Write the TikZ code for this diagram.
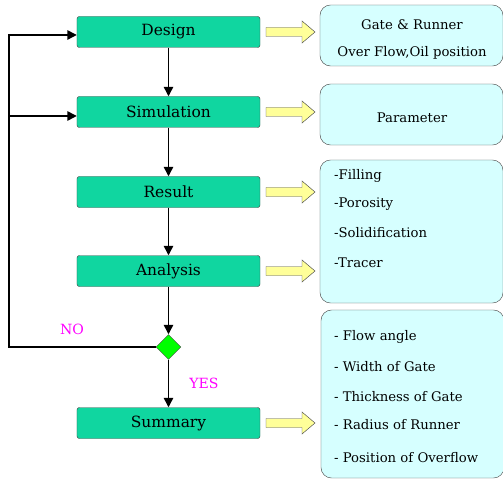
\documentclass[tikz,border=0pt]{standalone}
\usepackage{fontspec}
\setmainfont{DejaVu Serif}
\usetikzlibrary{arrows.meta,shapes.geometric}
\definecolor{stepgreen}{RGB}{16,214,160}
\definecolor{notecyan}{RGB}{214,255,255}
\definecolor{hintyellow}{RGB}{255,255,153}
\definecolor{answerpink}{RGB}{255,0,255}
\tikzset{
  stepbox/.style={draw=black!70,fill=stepgreen,rounded corners=2pt,minimum width=5.49cm,minimum height=0.93cm,font=\fontsize{13.2}{15}\selectfont},
  notebox/.style={draw=black!70,fill=notecyan,rounded corners=9pt,minimum width=5.49cm},
  notetext/.style={anchor=west,font=\fontsize{11.3}{13}\selectfont},
  flow/.style={line width=1.2pt,-{Triangle[length=8pt,width=8pt]}},
  answer/.style={text=answerpink,font=\fontsize{12}{14}\selectfont}
}
\begin{document}
\begin{tikzpicture}[x=0.03cm,y=-0.03cm]
\useasboundingbox (0,0) rectangle (503,480);
% steps
\node[stepbox] (design) at (168.5,32) {Design};
\node[stepbox] (sim) at (168.5,112) {Simulation};
\node[stepbox] (result) at (168.5,192) {Result};
\node[stepbox] (analysis) at (168.5,271) {Analysis};
\node[draw=black!70,fill=green,diamond,minimum size=0.75cm,inner sep=0pt] (check) at (168.5,347) {};
\node[stepbox] (summary) at (168.5,423) {Summary};
\draw[flow] (design) -- (sim);
\draw[flow] (sim) -- (result);
\draw[flow] (result) -- (analysis);
\draw[flow] (analysis) -- (check);
\draw[flow] (check) -- (summary);
\coordinate (loop) at (9,347);
\draw[flow] (check.west) -- (loop) |- ([yshift=-0.09cm]design.west);
\draw[flow] (loop |- 0,116) -- (sim.west |- 0,116);
\node[answer] (no) at (72,329) {NO};
\node[answer] (yes) at (204,383) {YES};
% notes
\node[notebox,minimum height=1.83cm] (n1) at (411.5,35.5) {};
\node[notebox,minimum height=1.83cm] (n2) at (411.5,114.5) {};
\node[notebox,minimum height=4.29cm] (n3) at (411.5,231.5) {};
\node[notebox,minimum height=5.04cm] (n4) at (412.5,394) {};
\node[font=\fontsize{11.3}{13}\selectfont] at (412,25) {Gate \& Runner};
\node[font=\fontsize{11.3}{13}\selectfont] at (412,53) {Over Flow,Oil position};
\node[font=\fontsize{11.3}{13}\selectfont] at (412,118) {Parameter};
\foreach \txt/\y in {-Filling/176,-Porosity/204,-Solidification/233,-Tracer/263}
  \node[notetext] at (330,\y) {\txt};
\foreach \txt/\y in {Flow angle/337,Width of Gate/367,Thickness of Gate/397,Radius of Runner/425,Position of Overflow/458}
  \node[notetext] at (330,\y) {- \txt};
% hint arrows
\foreach \y in {32,112,192,271,423}
  \draw[black!70,fill=hintyellow] (266,\y-4.5) -- (302,\y-4.5) -- (302,\y-11) -- (315,\y)
    -- (302,\y+11) -- (302,\y+4.5) -- (266,\y+4.5) -- cycle;
\end{tikzpicture}
\end{document}
